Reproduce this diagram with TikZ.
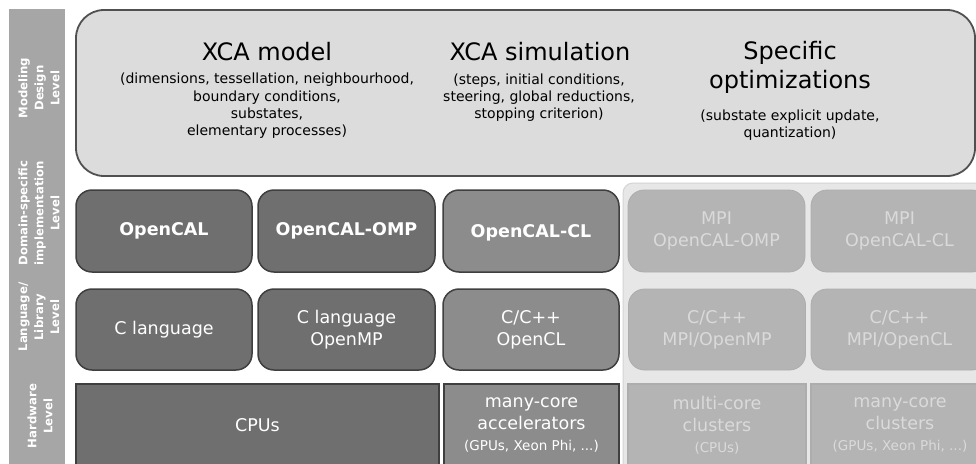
\documentclass[tikz,border=0pt]{standalone}
\usepackage{fontspec}
\setmainfont{DejaVu Sans}
\definecolor{barfill}{HTML}{A6A6A6}
\definecolor{topfill}{HTML}{DCDCDC}
\definecolor{topedge}{HTML}{505050}
\definecolor{darkfill}{HTML}{6F6F6F}
\definecolor{midfill}{HTML}{8C8C8C}
\definecolor{boxedge}{HTML}{3F3F3F}
\definecolor{lightfill}{HTML}{B4B4B4}
\definecolor{lightedge}{HTML}{ADADAD}
\definecolor{lighttext}{HTML}{DADADA}
\definecolor{panelfill}{HTML}{E7E7E7}
\definecolor{paneledge}{HTML}{D4D4D4}
\newcommand{\fsz}[2]{\fontsize{#1}{#2}\selectfont}
\begin{document}
\begin{tikzpicture}[x=1pt,y=-1pt,
  lvl/.style={rotate=90, text=white, align=center, font=\bfseries\fsz{11.7}{16}},
  title/.style={align=center, font=\fsz{24}{29}},
  subtext/.style={align=center, font=\fsz{14}{17.3}},
  swbox/.style={line width=1.5pt, rounded corners=16pt, align=center, font=\fsz{17.5}{22}, inner sep=2pt},
  darkbox/.style={swbox, draw=boxedge, fill=darkfill, text=white},
  midbox/.style={swbox, draw=boxedge, fill=midfill, text=white},
  lightbox/.style={swbox, draw=lightedge, line width=0.8pt, fill=lightfill, text=lighttext},
  hwbox/.style={swbox, rounded corners=0pt},
  row2/.style={minimum height=82pt, minimum width=176pt},
  row3/.style={minimum height=81pt, minimum width=176pt},
  row4/.style={minimum height=82pt},
  boldlabel/.style={font=\bfseries\fsz{17.5}{22}}
]
\useasboundingbox (0,0) rectangle (976,463);
\clip (0,0) rectangle (976,463);
\fill[white] (0,0) rectangle (976,463);

% level labels on the left strip
\fill[barfill] (9,9) rectangle (65,470);
\node[lvl] (lmod) at (39,88) {Modeling\\Design\\Level};
\node[lvl] (ldom) at (39,213) {Domain-specific\\implementation\\Level};
\node[lvl] (llang) at (39,317) {Language/\\Library\\Level};
\node[lvl] (lhw) at (40,416) {Hardware\\Level};

% modelling / design level
\draw[fill=topfill, draw=topedge, line width=1.8pt, rounded corners=28pt]
  (76,10) rectangle (975,176);
\node[title] (xmodel) at (267,52) {XCA model};
\node[subtext] (xmodelsub) at (267,106)
  {(dimensions, tessellation, neighbourhood,\\boundary conditions,\\substates,\\elementary processes)};
\node[title] (xsim) at (540,52) {XCA simulation};
\node[subtext] (xsimsub) at (539,97.5)
  {(steps, initial conditions,\\steering, global reductions,\\stopping criterion)};
\node[title] (xopt) at (790,67.5) {Specific\\optimizations};
\node[subtext] (xoptsub) at (790,125)
  {(substate explicit update,\\quantization)};

% distributed-memory panel
\draw[fill=panelfill, draw=paneledge, line width=1pt, rounded corners=10pt]
  (623,183) rectangle (1000,490);

% domain-specific implementation level
\node[darkbox, row2, boldlabel] (ocal) at (164,231) {OpenCAL};
\node[darkbox, row2, boldlabel, minimum width=177pt] (ocalomp) at (346.5,231) {OpenCAL-OMP};
\node[midbox, row2, boldlabel, text depth=0pt] (ocalcl) at (531,231) {OpenCAL-CL};
\node[lightbox, row2, minimum width=177pt] (mpiomp) at (716.5,231) {MPI\\OpenCAL-OMP};
\node[lightbox, row2, minimum width=177pt] (mpicl) at (899.5,231) {MPI\\OpenCAL-CL};

% language / library level
\node[darkbox, row3] (clang) at (164,329.5) {C language};
\node[darkbox, row3, minimum width=177pt] (comp) at (346.5,329.5) {C language\\OpenMP};
\node[midbox, row3] (ccl) at (531,329.5) {C/C++\\OpenCL};
\node[lightbox, row3, minimum width=177pt] (cmpiomp) at (717,329.5) {C/C++\\MPI/OpenMP};
\node[lightbox, row3, minimum width=177pt] (cmpicl) at (899.5,329.5) {C/C++\\MPI/OpenCL};

% hardware level
\node[darkbox, hwbox, row4, minimum width=363pt] (cpus) at (257.5,425) {CPUs};
\node[midbox, hwbox, row4, minimum width=175pt] (accel) at (531.5,425)
  {many-core\\accelerators\\[-1pt]{\fsz{13.5}{16}(GPUs, Xeon Phi, ...)}};
\node[lightbox, hwbox, row4, minimum width=178pt] (mcclus) at (717,425)
  {multi-core\\clusters\\[-1pt]{\fsz{13.5}{16}(CPUs)}};
\node[lightbox, hwbox, row4, minimum width=178pt] (gpuclus) at (900,425)
  {many-core\\clusters\\[-1pt]{\fsz{13.5}{16}(GPUs, Xeon Phi, ...)}};
\end{tikzpicture}
\end{document}
